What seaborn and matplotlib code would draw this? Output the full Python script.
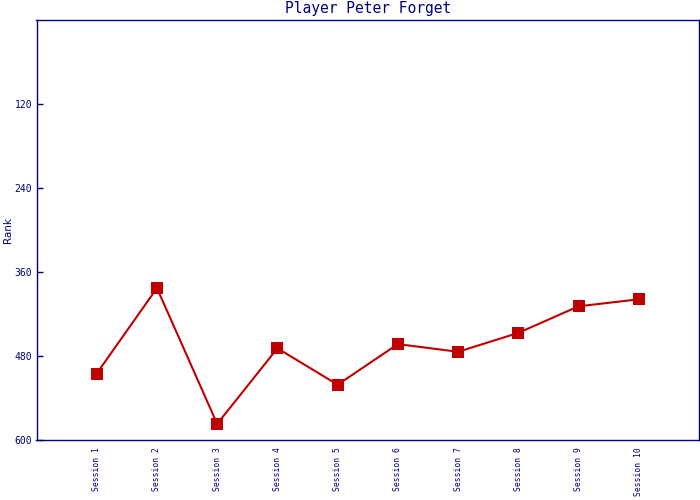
import matplotlib
matplotlib.use("Agg")
import matplotlib.pyplot as plt
import seaborn as sns
import pandas as pd

sessions = ["Session 1", "Session 2", "Session 3", "Session 4", "Session 5",
            "Session 6", "Session 7", "Session 8", "Session 9", "Session 10"]
ranks = [505, 383, 577, 469, 521, 463, 474, 447, 409, 399]
y_ticks = [120, 240, 360, 480, 600]

navy = "#000080"
red = "#C00000"

sns.set_theme(style="white")
plt.rcParams["font.family"] = ["DejaVu Sans Mono", "DejaVu Sans"]

df = pd.DataFrame({"Session": sessions, "Rank": ranks})

fig = plt.figure(figsize=(7, 5), dpi=100)
ax = fig.add_axes([36.5 / 700, 60 / 500, (699 - 36.5) / 700, 420 / 500])

sns.lineplot(data=df, x="Session", y="Rank", ax=ax, sort=False, color=red,
             linewidth=1.5, marker="s", markersize=8, markeredgewidth=0,
             markerfacecolor=red)

ax.set_xlim(-1, len(sessions))
ax.set_ylim(600, 0)
ax.set_yticks(y_ticks)
ax.set_yticklabels([str(t) for t in y_ticks])
ax.set_xticks(range(len(sessions)))
ax.set_xticklabels(sessions, rotation=90, va="top", ha="center")

ax.tick_params(axis="y", direction="in", length=4, width=1, color=navy,
               labelcolor=navy, labelsize=7, pad=3, left=True)
ax.tick_params(axis="x", length=0, labelcolor=navy, labelsize=5.8, pad=5)

for s in ax.spines.values():
    s.set_color(navy)
    s.set_linewidth(1)
    s.set_visible(True)

ax.set_xlabel("")
ax.set_ylabel("Rank", color=navy, fontsize=7.5,
              family=["DejaVu Sans", "DejaVu Sans Mono"])
ax.yaxis.set_label_coords(-0.036, 0.5)
ax.set_title("Player Peter Forget", color=navy, fontsize=10.5, pad=5)
ax.grid(False)

fig.savefig("out.png", dpi=100)
